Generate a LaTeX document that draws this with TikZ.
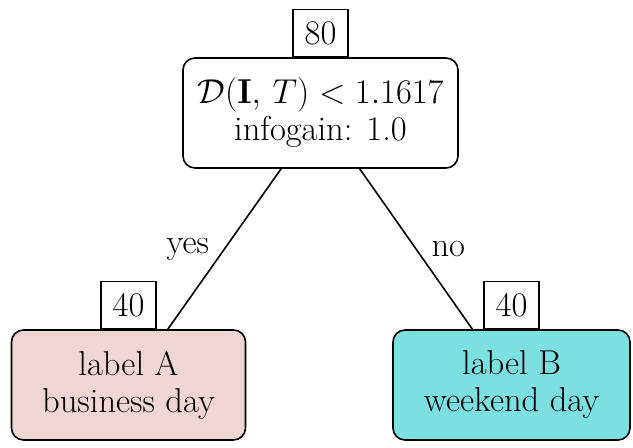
\documentclass[tikz,border=0pt]{standalone}
\usepackage[RGB]{xcolor}
\definecolor{A}{RGB}{240,213,213}
\definecolor{B}{RGB}{124,224,224}
\newcommand{\bigtext}{\fontsize{17.28}{18.5}\selectfont}
\newcommand{\countbox}[2]{\node[count] (n#1) at (#1.north) {#2};}
\tikzset{
  split/.style={draw, line width=0.8pt, rounded corners=6pt, fill=white,
    minimum width=137.5pt, minimum height=55pt, align=center, font=\bigtext},
  leaf/.style={split, minimum width=117pt},
  count/.style={draw, line width=0.8pt, anchor=south, fill=white,
    minimum width=27.5pt, minimum height=23.5pt, inner sep=0pt, font=\bigtext},
  branch/.style={line width=0.8pt}
}

\begin{document}
\begin{tikzpicture}[x=0.5pt,y=0.5pt]
\useasboundingbox (0,0) rectangle (633,448);
\node[split] (root) at (320.5,335) {$\mathcal{D}(\mathbf{I},\, T) < 1.1617$\\infogain: 1.0};
\node[leaf, fill=A] (leafA) at (128.5,63) {label A\\business day};
\node[leaf, fill=B, minimum width=118.5pt] (leafB) at (511.5,63) {label B\\weekend day};
\draw[branch] (root) -- node[left, xshift=-4pt, font=\bigtext] (yes) {yes} (leafA);
\draw[branch] (root) -- node[right, xshift=4pt, font=\bigtext] (no) {no} (leafB);
\countbox{root}{80}\countbox{leafA}{40}\countbox{leafB}{40}
\end{tikzpicture}
\end{document}
